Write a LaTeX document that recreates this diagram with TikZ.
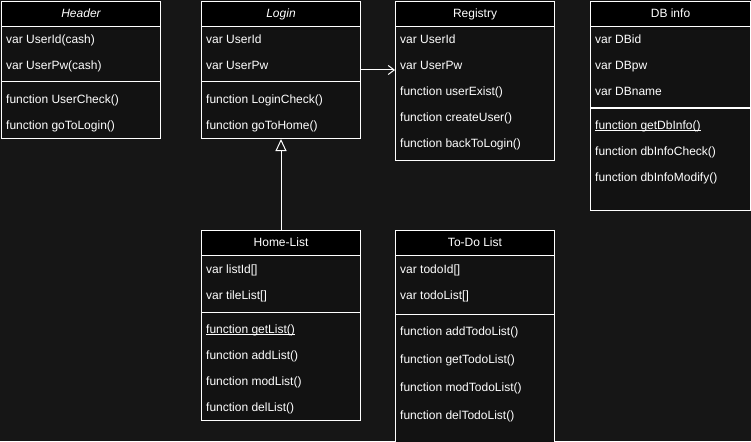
\documentclass[tikz,border=0pt]{standalone}
\usepackage{fontspec}
\setmainfont{Liberation Sans}
\usetikzlibrary{arrows.meta}
\definecolor{bgc}{RGB}{22,22,22}
\definecolor{bodyc}{RGB}{18,18,18}
\newcommand{\ulin}[1]{\setbox0\hbox{#1}\rlap{\rule[-1.6pt]{\wd0}{0.6pt}}\box0}
\begin{document}
\begin{tikzpicture}[x=1pt,y=-1pt,
  every node/.style={text=white,font=\fontsize{12}{14}\selectfont},
  cls/.style={draw=white,fill=bodyc,line width=1pt,anchor=north west,inner sep=0pt},
  hbar/.style={draw=white,fill=black,line width=1pt,anchor=north west,inner sep=0pt,minimum height=25pt,text height=8.6pt,text depth=2.4pt},
  row/.style={anchor=west,inner sep=0pt,text height=8.6pt,text depth=2.4pt},
  sep/.style={draw=white,line width=1pt},
  conn/.style={draw=white,line width=1pt}]
\fill[bgc] (0,0) rectangle (751,441);
\clip (0,0) rectangle (751,441);
\useasboundingbox (0,0) rectangle (751,441);

% Header
\node[cls,minimum width=159pt,minimum height=137pt] (hdr) at (1,1) {};
\node[hbar,minimum width=159pt] (hdrT) at (1,1) {\itshape Header};
\node[row] (hdr1) at (6,40) {var UserId(cash)};
\node[row] (hdr2) at (6,66) {var UserPw(cash)};
\draw[sep] (hdr.west |- 0,82) -- (hdr.east |- 0,82);
\node[row] (hdr3) at (6,100) {function UserCheck()};
\node[row] (hdr4) at (6,126) {function goToLogin()};

% Login
\node[cls,minimum width=159pt,minimum height=137pt] (login) at (201,1) {};
\node[hbar,minimum width=159pt] (loginT) at (201,1) {\itshape Login};
\node[row] (login1) at (206,40) {var UserId};
\node[row] (login2) at (206,66) {var UserPw};
\draw[sep] (login.west |- 0,82) -- (login.east |- 0,82);
\node[row] (login3) at (206,100) {function LoginCheck()};
\node[row] (login4) at (206,126) {function goToHome()};

% Registry
\node[cls,minimum width=159pt,minimum height=159pt] (reg) at (395,1) {};
\node[hbar,minimum width=159pt] (regT) at (395,1) {Registry};
\node[row] (reg1) at (400,40) {var UserId};
\node[row] (reg2) at (400,66) {var UserPw};
\node[row] (reg3) at (400,92) {function userExist()};
\node[row] (reg4) at (400,118) {function createUser()};
\node[row] (reg5) at (400,144) {function backToLogin()};

% DB info
\node[cls,minimum width=160pt,minimum height=209pt] (db) at (590,1) {};
\node[hbar,minimum width=160pt] (dbT) at (590,1) {DB info};
\node[row] (db1) at (595,40) {var DBid};
\node[row] (db2) at (595,66) {var DBpw};
\node[row] (db3) at (595,92) {var DBname};
\draw[sep] (db.west |- 0,108) -- (db.east |- 0,108);
\node[row] (db4) at (595,126) {\ulin{function getDbInfo()}};
\node[row] (db5) at (595,152) {function dbInfoCheck()};
\node[row] (db6) at (595,178) {function dbInfoModify()};

% Home-List
\node[cls,minimum width=159pt,minimum height=190pt] (home) at (201,230) {};
\node[hbar,minimum width=159pt] (homeT) at (201,230) {Home-List};
\node[row] (home1) at (206,270) {var listId[]};
\node[row] (home2) at (206,296) {var tileList[]};
\draw[sep] (home.west |- 0,312) -- (home.east |- 0,312);
\node[row] (home3) at (206,330) {\ulin{function getList()}};
\node[row] (home4) at (206,356) {function addList()};
\node[row] (home5) at (206,382) {function modList()};
\node[row] (home6) at (206,408) {function delList()};

% To-Do List
\node[cls,minimum width=159pt,minimum height=220pt] (todo) at (395,230) {};
\node[hbar,minimum width=159pt] (todoT) at (395,230) {To-Do List};
\node[row] (todo1) at (400,270) {var todoId[]};
\node[row] (todo2) at (400,296) {var todoList[]};
\draw[sep] (todo.west |- 0,314) -- (todo.east |- 0,314);
\node[row] (todo3) at (400,332) {function addTodoList()};
\node[row] (todo4) at (400,360) {function getTodoList()};
\node[row] (todo5) at (400,388) {function modTodoList()};
\node[row] (todo6) at (400,416) {function delTodoList()};

% connectors
\draw[conn,-{Straight Barb[length=6pt,width=9pt,line width=1pt]}] (login.east) -- (login.east -| reg.west);
\draw[conn,-{Triangle[open,length=12pt,width=11pt,fill=bgc,line width=1pt]}] (home.north) -- (login.south);
\end{tikzpicture}
\end{document}
